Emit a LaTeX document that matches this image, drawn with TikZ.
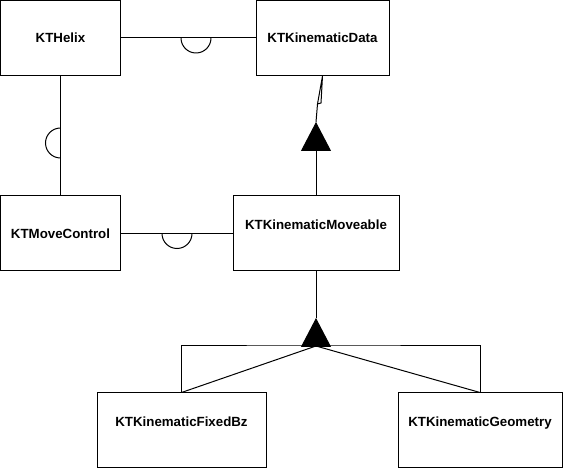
\documentclass[tikz,border=0pt]{standalone}
\usepackage{fontspec}
\setmainfont{Liberation Sans}
\usetikzlibrary{arrows.meta}
\tikzset{
  cls/.style={draw,inner sep=0pt,minimum height=75pt,text height=9.5pt,text depth=0pt,
    font=\fontsize{13.3}{16}\selectfont\bfseries},
  clsup/.style={cls,text depth=18pt},
  gen/.style={-{Triangle[width=30pt,length=29pt]}},
}
\begin{document}
\begin{tikzpicture}[line width=1pt]
    \def\x{1pt}
    \def\y{-1pt}
    \useasboundingbox (0,0) rectangle (563*\x, 470*\y);
    \node[cls,minimum width=120pt] (A0_0) at (60.5*\x, 38*\y) {KTHelix};
    \node[cls,minimum width=133pt] (A0_2) at (322.5*\x, 38*\y) {KTKinematicData};
    \node[cls,minimum width=120pt] (A1_0) at (60.5*\x, 233.5*\y) {KTMoveControl};
    \node[clsup,minimum width=166pt] (A1_2) at (316*\x, 233.5*\y) {KTKinematicMoveable};
    \node[clsup,minimum width=169pt] (A2_1) at (181.5*\x, 430.5*\y) {KTKinematicFixedBz};
    \node[clsup,minimum width=164pt] (A2_3) at (480*\x, 430.5*\y) {KTKinematicGeometry};
    \coordinate (S0) at (196*\x, 38*\y);
    \coordinate (S1) at (60.5*\x, 143*\y);
    \coordinate (S2) at (177*\x, 233.5*\y);
    \coordinate (T0) at (316*\x, 122*\y);
    \coordinate (T1) at (316*\x, 318*\y);
    \coordinate (B1) at (316*\x, 346*\y);
    \coordinate (J0) at (317.5*\x, 104*\y);
    \coordinate (J1) at (321*\x, 103*\y);
    % sockets
    \path (A0_0) edge (A0_2);
    \draw (S0) ++(-15pt,0) arc[start angle=180,end angle=360,radius=15pt];
    \path (A0_0) edge (A1_0);
    \draw (S1) ++(0,15pt) arc[start angle=90,end angle=270,radius=15pt];
    \path (A1_0) edge (A1_2);
    \draw (S2) ++(-15pt,0) arc[start angle=180,end angle=360,radius=15pt];
    % generalisations
    \path (A1_2) edge [gen] (T0);
    \draw (T0) -- (J0) -- (J1) -- (A0_2.south) -- (J0);
    \path (B1) edge [gen] (T1);
    \path (A1_2) edge (T1);
    \draw (A2_1) |- (B1) -| (A2_3);
    \draw (A2_1.north) -- (B1) -- (A2_3.north);
  \end{tikzpicture}
\end{document}
